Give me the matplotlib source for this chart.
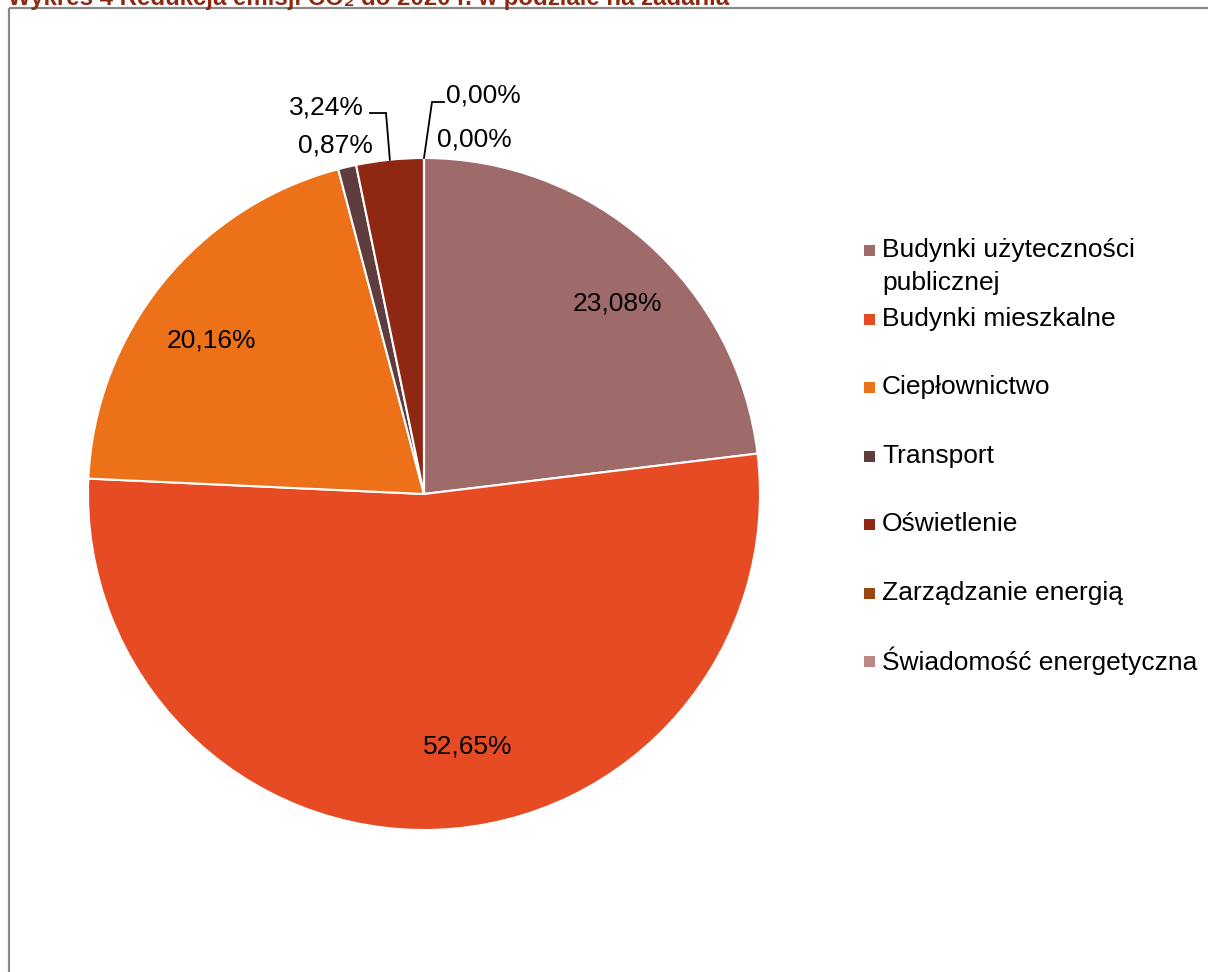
import matplotlib
matplotlib.use("Agg")
import matplotlib.pyplot as plt
import numpy as np
from matplotlib.patches import Rectangle

# ---- data ----
categories = ["Budynki użyteczności\npublicznej", "Budynki mieszkalne", "Ciepłownictwo",
              "Transport", "Oświetlenie", "Zarządzanie energią", "Świadomość energetyczna"]
values = [23.08, 52.65, 20.16, 0.87, 3.24, 0.00, 0.00]
value_labels = ["23,08%", "52,65%", "20,16%", "0,87%", "3,24%", "0,00%", "0,00%"]
colors = ["#9E6B6A", "#E64B23", "#EC7118", "#5F3D3E", "#8F2812", "#99470F", "#BA8785"]
title = "Wykres 4 Redukcja emisji CO₂ do 2020 r. w podziale na zadania"

FONT = ["Liberation Sans", "DejaVu Sans"]
plt.rcParams["font.family"] = FONT

W, H = 1208, 972
fig = plt.figure(figsize=(W / 100, H / 100), dpi=100)
ax = fig.add_axes([0, 0, 1, 1])

cx, cy, R = 424, 494, 336
wedges, _ = ax.pie(values, colors=colors, startangle=-90, counterclock=True,
                   center=(cx, cy), radius=R, frame=False,
                   wedgeprops=dict(edgecolor="white", linewidth=1.5))
ax.set_xlim(0, W)
ax.set_ylim(H, 0)
ax.set_aspect("auto")
ax.axis("off")

# label positions (pixel layout)
label_pos = [(617, 303), (468, 746), (211, 340), (335, 145), (326, 107), (483, 96), (474, 140)]
for (x, y), lab in zip(label_pos, value_labels):
    ax.text(x, y, lab, fontsize=19, ha="center", va="center", color="black")

def edge_point(w):
    a = np.deg2rad((w.theta1 + w.theta2) / 2)
    return cx + R * np.cos(a), cy + R * np.sin(a)

# leader for 3,24%
ex, ey = edge_point(wedges[4])
ax.plot([370, 386, ex], [113, 113, ey], color="black", lw=1.3, solid_joinstyle="miter")
# leader for first 0,00%
ex, ey = edge_point(wedges[5])
ax.plot([444, 432, ex], [102, 102, ey], color="black", lw=1.3, solid_joinstyle="miter")

# legend (manual)
leg_y = [250, 319, 387, 456, 524, 593, 661]
for yy, lab, col in zip(leg_y, categories, colors):
    ax.add_patch(Rectangle((864, yy - 5.5), 11, 11, facecolor=col, edgecolor="none"))
    lines = lab.split("\n")
    for i, ln in enumerate(lines):
        ax.text(882, yy + i * 33, ln, fontsize=19, ha="left", va="center", color="black")

# frame
ax.plot([8.5, 8.5], [H + 5, 8.5], color="#8a8a8a", lw=1.6, clip_on=False, solid_capstyle="butt")
ax.plot([8.5, W + 5], [8.5, 8.5], color="#8a8a8a", lw=1.6, clip_on=False, solid_capstyle="butt")

# title (cut off at top)
t = ax.text(8, 5, title, fontsize=10, fontweight="bold", color="#8B2A14",
            ha="left", va="baseline", clip_on=False)
fig.canvas.draw()
w = t.get_window_extent().width
t.set_fontsize(10 * 720 / w)

fig.savefig("out.png", dpi=100, facecolor="white")
